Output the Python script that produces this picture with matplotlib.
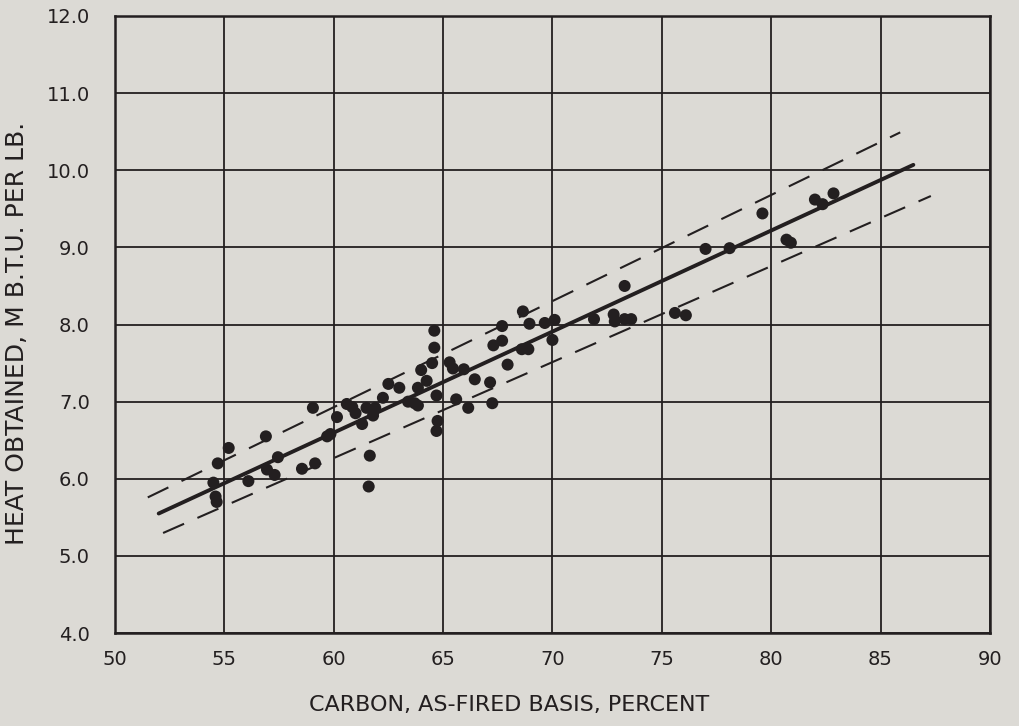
import matplotlib
matplotlib.use("Agg")
import matplotlib.pyplot as plt
import numpy as np

# Carbon content (as-fired, %) and heat obtained (M B.T.U. per lb.)
carbon = [54.5, 54.6, 54.65, 54.7, 55.2, 56.1, 56.9, 56.95, 57.3, 57.45,
          58.55, 59.05, 59.15, 59.7, 59.85, 60.15, 60.6, 60.85, 61.0, 61.3,
          61.5, 61.8, 61.9, 61.65, 61.6, 62.25, 62.5, 63.0, 63.4, 63.7,
          63.85, 63.85, 64.0, 64.25, 64.5, 64.6, 64.6, 64.7, 64.75, 64.7,
          65.3, 65.45, 65.6, 65.95, 66.15, 66.45, 67.15, 67.25, 67.3, 67.7,
          67.7, 67.95, 68.65, 68.6, 68.9, 68.95, 69.65, 70.1, 70.0, 71.9,
          72.8, 72.85, 73.3, 73.6, 73.3, 75.6, 76.1, 77.0, 78.1, 79.6,
          80.7, 80.9, 82.0, 82.35, 82.85]
heat = [5.95, 5.77, 5.70, 6.20, 6.40, 5.97, 6.55, 6.12, 6.05, 6.28,
        6.13, 6.92, 6.20, 6.55, 6.58, 6.80, 6.97, 6.93, 6.85, 6.71,
        6.92, 6.82, 6.92, 6.30, 5.90, 7.05, 7.23, 7.18, 7.00, 6.98,
        6.95, 7.18, 7.41, 7.27, 7.50, 7.70, 7.92, 7.08, 6.75, 6.62,
        7.51, 7.43, 7.03, 7.42, 6.92, 7.29, 7.25, 6.98, 7.73, 7.79,
        7.98, 7.48, 8.17, 7.68, 7.68, 8.01, 8.02, 8.06, 7.80, 8.07,
        8.13, 8.04, 8.07, 8.07, 8.50, 8.15, 8.12, 8.98, 8.99, 9.44,
        9.10, 9.06, 9.62, 9.56, 9.70]

# Fitted line end points and the +/- 5 % band
fit_x = [52.0, 86.5]
fit_y = [5.55, 10.07]
band_pct = 0.05
upper_x = [51.5, 85.9]
lower_x = [52.2, 87.3]

x_ticks = [50, 55, 60, 65, 70, 75, 80, 85, 90]
y_ticks = [4.0, 5.0, 6.0, 7.0, 8.0, 9.0, 10.0, 11.0, 12.0]

bg = "#dcdad5"
ink = "#231f20"

fig = plt.figure(figsize=(10.2, 7.26), dpi=100, facecolor=bg)
ax = fig.add_axes([0.1127, 0.128, 0.8578, 0.85], facecolor=bg)

slope = (fit_y[1] - fit_y[0]) / (fit_x[1] - fit_x[0])
def fit(x):
    return fit_y[0] + slope * (np.asarray(x) - fit_x[0])

ax.set_xlim(50, 90)
ax.set_ylim(4.0, 12.0)
ax.set_xticks(x_ticks)
ax.set_yticks(y_ticks)
ax.set_xticklabels([str(v) for v in x_ticks])
ax.set_yticklabels([f"{v:.1f}" for v in y_ticks])
ax.grid(True, color=ink, linewidth=1.3)
ax.set_axisbelow(True)
for s in ax.spines.values():
    s.set_color(ink)
    s.set_linewidth(1.8)
ax.tick_params(length=0, labelsize=14, colors=ink)
ax.tick_params(axis="y", pad=18)
ax.tick_params(axis="x", pad=12)

ax.plot(fit_x, fit_y, color=ink, linewidth=2.8, solid_capstyle="round", zorder=3)
ax.plot(upper_x, fit(upper_x) * (1 + band_pct), color=ink, linewidth=1.5,
        dashes=(11, 7), zorder=3)
ax.plot(lower_x, fit(lower_x) * (1 - band_pct), color=ink, linewidth=1.5,
        dashes=(11, 7), zorder=3)

ax.scatter(carbon, heat, s=75, color=ink, edgecolors="none", zorder=4)

ax.set_xlabel("CARBON, AS-FIRED BASIS, PERCENT", fontsize=16, color=ink)
ax.set_ylabel("HEAT OBTAINED, M B.T.U. PER LB.", fontsize=18, color=ink)
ax.xaxis.set_label_coords(0.451, -0.1)
ax.yaxis.set_label_coords(-0.098, 0.486)

fig.savefig("out.png", dpi=100, facecolor=bg)
